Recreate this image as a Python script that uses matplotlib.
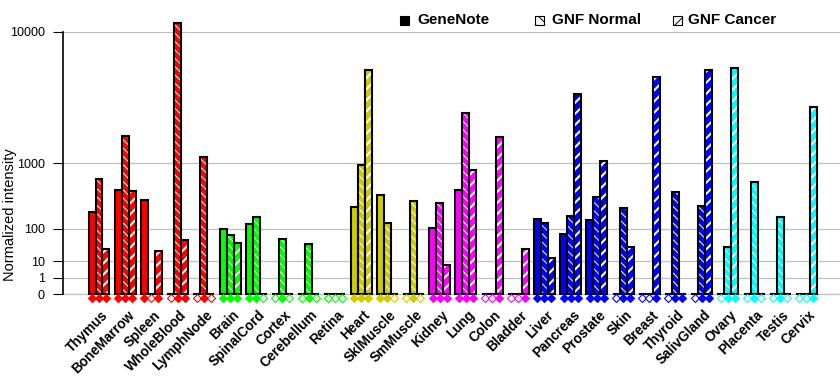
import numpy as np
import matplotlib
matplotlib.use('Agg')
import matplotlib.pyplot as plt
from matplotlib.patches import Rectangle
from matplotlib.transforms import blended_transform_factory

plt.rcParams['font.family'] = ['Liberation Sans', 'DejaVu Sans']
plt.rcParams['hatch.linewidth'] = 0.7

# tissues, grouped by system (colour)
tissues = ['Thymus', 'BoneMarrow', 'Spleen', 'WholeBlood', 'LymphNode',
           'Brain', 'SpinalCord', 'Cortex', 'Cerebellum', 'Retina',
           'Heart', 'SklMuscle', 'SmMuscle',
           'Kidney', 'Lung', 'Colon', 'Bladder',
           'Liver', 'Pancreas', 'Prostate', 'Skin', 'Breast', 'Thyroid', 'SalivGland',
           'Ovary', 'Placenta', 'Testis', 'Cervix']
system_sizes = [5, 5, 3, 4, 7, 4]
system_colors = ['#ff0000', '#00ff00', '#cccc00', '#ff00ff', '#0000ff', '#00ffff']

genenote = [210, 470, 330, 0, 0, 100, 125, 0, 0, 0, 260, 390, 0, 104,
            470, 0, 0, 157, 74, 148, 0, 0, 0, 0, 0, 0, 0, 0]
gnf_normal = [650, 1870, 0, 11200, 1150, 70, 170, 55, 41, 0, 940, 129, 319, 297,
              2920, 0, 0, 131, 176, 375, 244, 0, 430, 266, 34, 600, 169, 0]
gnf_cancer = [30, 450, 25, 53, 0, 43, 0, 0, 0, 0, 5900, 0, 0, 7,
              840, 1830, 29, 14, 4080, 1060, 33, 5300, 0, 5900, 6100, 0, 0, 3250]

# present (1) / absent (0) calls shown as diamonds under the bars
call_genenote = [1, 1, 1, 0, 0, 1, 1, 0, 0, 0, 1, 1, 0, 1, 1, 0, 0, 1, 1, 1, 0, 0, 0, 0, 0, 0, 0, 0]
call_normal = [1, 1, 0, 1, 1, 1, 1, 1, 1, 0, 1, 1, 1, 1, 1, 0, 0, 1, 1, 1, 1, 0, 1, 1, 1, 1, 1, 0]
call_cancer = [1, 1, 1, 1, 0, 1, 0, 0, 0, 0, 1, 0, 0, 1, 1, 1, 1, 1, 1, 1, 1, 1, 1, 1, 1, 0, 0, 1]

series_names = ['GeneNote', 'GNF Normal', 'GNF Cancer']
yticks = [0, 1, 10, 100, 1000, 10000]

colors = []
for size, c in zip(system_sizes, system_colors):
    colors += [c] * size

# each decade doubles in height
p = np.log10(2)
def fwd(v):
    return np.sign(v) * np.abs(v) ** p
def inv(v):
    return np.sign(v) * np.abs(v) ** (1 / p)

W, H = 840, 385
fig = plt.figure(figsize=(W / 100, H / 100), dpi=100)
ax = fig.add_axes([63 / W, 1 - 294.3 / H, 777 / W, 262.6 / H])
ax.set_yscale('function', functions=(fwd, inv))
ax.set_ylim(0, 10000)
n = len(tissues)
ax.set_xlim(-1.374, 28.28)

bw = 0.267
x = np.arange(n)
hatches = [None, '\\\\\\\\', '///']
hatch_lw = [0.7, 0.7, 1.5]
for k, (vals, hatch) in enumerate(zip([genenote, gnf_normal, gnf_cancer], hatches)):
    xs = x + (k - 1) * bw
    if hatch:
        with plt.rc_context({'hatch.linewidth': hatch_lw[k]}):
            bars = ax.bar(xs, vals, bw, color=colors, edgecolor='white', hatch=hatch,
                          linewidth=0, clip_on=False, zorder=2)
        for b in bars:
            if hasattr(b, 'set_hatch_linewidth'):
                b.set_hatch_linewidth(hatch_lw[k])
    else:
        ax.bar(xs, vals, bw, color=colors, linewidth=0, clip_on=False, zorder=2)
    ax.bar(xs, vals, bw, fill=False, edgecolor='black', linewidth=1.5,
           clip_on=False, zorder=3)

# call diamonds
trans = blended_transform_factory(ax.transData, ax.transAxes)
for k, calls in enumerate([call_genenote, call_normal, call_cancer]):
    for i in range(n):
        fc = colors[i] if calls[i] else 'white'
        ax.plot(x[i] + (k - 1) * bw, -0.014, marker='D', ms=3.6, mfc=fc,
                mec=colors[i], mew=0.8, transform=trans, clip_on=False, zorder=4)

# tissue labels
for i, t in enumerate(tissues):
    ax.text(i + 0.08, -0.052, t, transform=trans, rotation=45, ha='right', va='top',
            rotation_mode='anchor', fontsize=9.8, fontweight='bold')

ax.set_yticks(yticks)
ax.set_yticklabels([str(v) for v in yticks])
ax.set_xticks([])
ax.tick_params(axis='y', length=7, width=0.8, pad=6, labelsize=9)
ax.yaxis.grid(True, color='#c0c0c0', linewidth=0.9)
ax.axhline(0, color='#c0c0c0', linewidth=0.9, clip_on=False, zorder=1)
ax.set_axisbelow(True)
for s in ['top', 'right', 'bottom']:
    ax.spines[s].set_visible(False)
ax.spines['left'].set_linewidth(1.2)

fig.text(10 / W, 1 - 215 / H, 'Normalized intensity', rotation=90,
         ha='center', va='center', fontsize=10.5)

# legend
leg_sq = [400, 535, 673]
leg_tx = [417, 552, 688]
leg_style = [dict(facecolor='black'), dict(facecolor='white', hatch='\\\\\\'),
             dict(facecolor='white', hatch='///')]
for name, sx, tx, st in zip(series_names, leg_sq, leg_tx, leg_style):
    fig.add_artist(Rectangle((sx / W, 1 - 24.5 / H), 8.5 / W, 8.5 / H,
                             transform=fig.transFigure, edgecolor='black',
                             linewidth=0.8, **st))
    fig.text(tx / W, 1 - 20 / H, name, va='center', fontsize=11, fontweight='bold')

fig.savefig('out.png', dpi=100)
